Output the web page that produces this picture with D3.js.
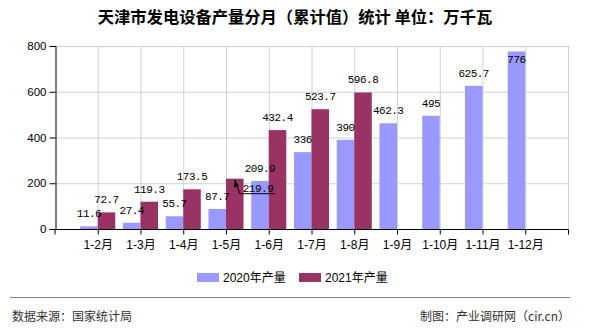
<!DOCTYPE html>
<html><head><meta charset="utf-8">
<script src="https://cdn.jsdelivr.net/npm/d3@7"></script>
<style>body{margin:0;background:#fff;}svg{display:block;}</style>
</head><body>
<script>
const categories = ["1-2月","1-3月","1-4月","1-5月","1-6月","1-7月","1-8月","1-9月","1-10月","1-11月","1-12月"];
const values2020 = [11.6,27.4,55.7,87.7,209.9,336,390,462.3,495,625.7,776];
const values2021 = [72.7,119.3,173.5,219.9,432.4,523.7,596.8,null,null,null,null];
const seriesNames = ["2020年产量","2021年产量"];
const yTicks = [0,200,400,600,800];
const colors = ["#9999ff","#993366"];

const W=590,H=330;
const m={l:55,r:568,t:46,b:229};
const svg=d3.select("body").append("svg").attr("width",W).attr("height",H);

svg.append("text").attr("x",295).attr("y",23).attr("text-anchor","middle")
  .attr("font-family","'Noto Sans CJK SC'").attr("font-weight","bold").attr("font-size",16.3)
  .attr("fill","#000").text("天津市发电设备产量分月（累计值）统计 单位：万千瓦");

const x=d3.scalePoint().domain(categories).range([m.l,m.r]).padding(1);
const step=x.step();
const y=d3.scaleLinear().domain([0,800]).range([m.b,m.t]);
const bw=step*0.41;

const g=svg.append("g");
// horizontal grid
g.selectAll(".hg").data(yTicks.filter(d=>d>0)).join("line")
  .attr("x1",m.l).attr("x2",m.r).attr("y1",d=>y(d)+0.5).attr("y2",d=>y(d)+0.5)
  .attr("stroke","#d0d0d0").attr("stroke-width",1);
// vertical grid
g.selectAll(".vg").data(categories).join("line")
  .attr("x1",d=>x(d)+0.5).attr("x2",d=>x(d)+0.5).attr("y1",m.t).attr("y2",m.b)
  .attr("stroke","#d0d0d0");
g.append("line").attr("x1",m.r+0.5).attr("x2",m.r+0.5).attr("y1",m.t).attr("y2",m.b).attr("stroke","#d0d0d0");

// bars
g.selectAll(".b20").data(categories).join("rect")
  .attr("x",d=>x(d)-bw).attr("width",bw)
  .attr("y",(d,i)=>y(values2020[i])).attr("height",(d,i)=>y(0)-y(values2020[i]))
  .attr("fill",colors[0]);
g.selectAll(".b21").data(categories.filter((d,i)=>values2021[i]!=null)).join("rect")
  .attr("x",d=>x(d)).attr("width",bw)
  .attr("y",(d,i)=>y(values2021[i])).attr("height",(d,i)=>y(0)-y(values2021[i]))
  .attr("fill",colors[1]);

// axes
const yAxis=d3.axisLeft(y).tickValues(yTicks).tickSize(6).tickPadding(3);
const ya=svg.append("g").attr("transform",`translate(${m.l+0.5},0)`).call(yAxis);
ya.select(".domain").attr("stroke","#000");
ya.selectAll("text").attr("font-family","'Liberation Sans'").attr("font-size",11.5).attr("fill","#000");

const xa=svg.append("g").attr("transform",`translate(0,${m.b+0.5})`)
  .call(d3.axisBottom(x).tickSize(5).tickPadding(6).tickSizeOuter(5));
xa.select(".domain").attr("stroke","#000").attr("d",`M${m.l},5V0H${m.r+0.5}V5`);
xa.selectAll("text").attr("font-family","'Liberation Sans','Noto Sans CJK SC'").attr("font-size",12).attr("fill","#000");

// value labels
const lab=svg.append("g").attr("font-family","'Liberation Mono'").attr("font-size",11).attr("letter-spacing","-0.5").attr("fill","#000").attr("text-anchor","middle");
const fy=v=>Math.max(y(v)-9,m.t+17);
lab.selectAll(".l20").data(categories).join("text")
  .attr("x",d=>x(d)-bw/2).attr("y",(d,i)=>fy(values2020[i])).text((d,i)=>values2020[i]);
const idxLead=3;
lab.selectAll(".l21").data(categories.filter((d,i)=>values2021[i]!=null&&i!==idxLead)).join("text")
  .attr("x",d=>x(d)+bw/2).attr("y",d=>fy(values2021[categories.indexOf(d)])).text(d=>values2021[categories.indexOf(d)]);
// leader label for 1-5月 2021
{
  const cx=x(categories[idxLead])+bw/2, ty=y(values2021[idxLead])+1;
  svg.append("path").attr("d",`M${cx},${ty}L${cx+5},${ty+14}H${cx+40}`).attr("fill","none").attr("stroke","#000").attr("stroke-width",1);
  svg.append("path").attr("d",`M${cx},${ty}l-1,8l5,-2z`).attr("fill","#000");
  lab.append("text").attr("x",cx+8).attr("y",ty+12).attr("text-anchor","start").text(values2021[idxLead]);
}

// legend
const lg=svg.append("g").attr("font-family","'Liberation Sans','Noto Sans CJK SC'").attr("font-size",12);
const lx=[197,299];
seriesNames.forEach((n,i)=>{
  lg.append("rect").attr("x",lx[i]).attr("y",273).attr("width",22).attr("height",9).attr("fill",colors[i]);
  lg.append("text").attr("x",lx[i]+26).attr("y",282).attr("fill","#000").text(n);
});

// footer
svg.append("line").attr("x1",10).attr("x2",570).attr("y1",297.5).attr("y2",297.5).attr("stroke","#888");
svg.append("text").attr("x",12).attr("y",321).attr("font-family","'Noto Sans CJK SC'").attr("font-size",12).attr("fill","#333").text("数据来源：国家统计局");
svg.append("text").attr("x",570).attr("y",321).attr("text-anchor","end").attr("font-family","'Noto Sans CJK SC'").attr("font-size",12).attr("fill","#333").text("制图：产业调研网（cir.cn）");
</script>
</body></html>
